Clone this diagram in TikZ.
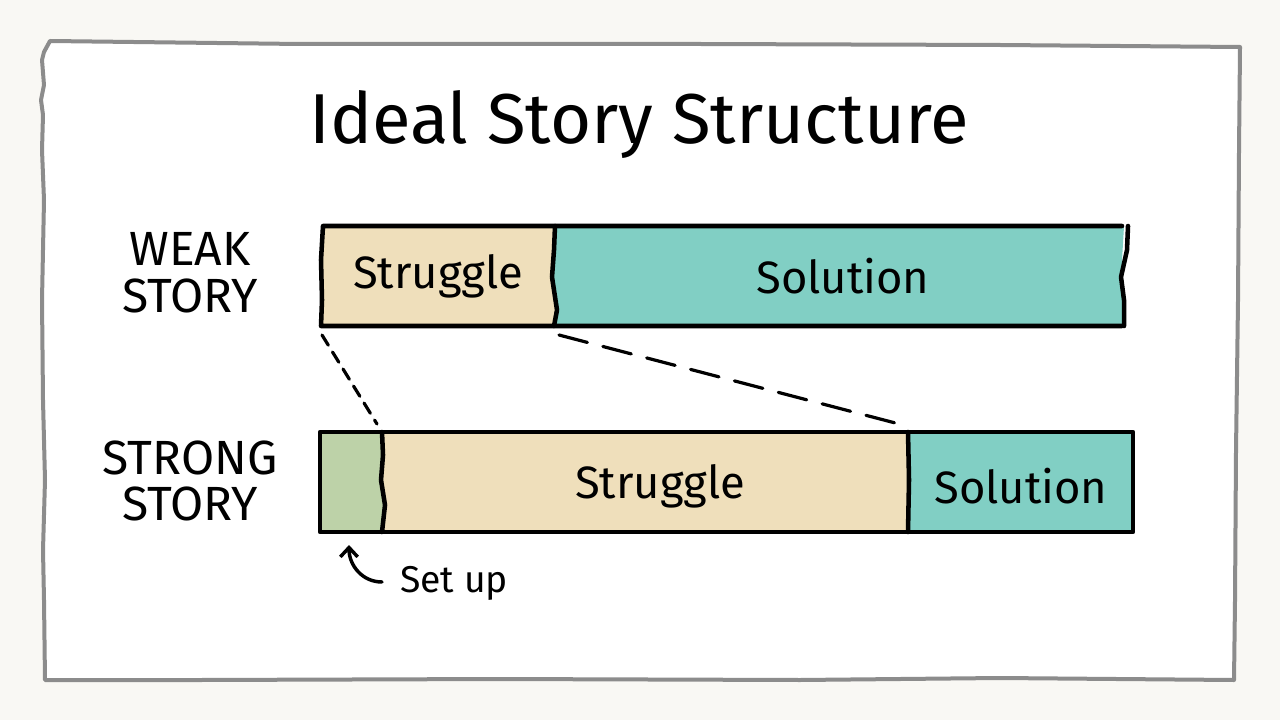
\documentclass[tikz,border=0pt]{standalone}
\usepackage{fontspec}
\setmainfont{Fira Sans}
\usetikzlibrary{arrows.meta}
\definecolor{bgc}{HTML}{F9F8F4}
\definecolor{framec}{HTML}{8C8C8C}
\definecolor{strugglec}{HTML}{EFDFBB}
\definecolor{solutionc}{HTML}{81CFC4}
\definecolor{setupc}{HTML}{BDD2A8}
\tikzset{
  outline/.style={draw=black, line width=3.4pt, line join=round, line cap=round},
  label/.style={font=\fontsize{36}{35}\selectfont, align=center, inner sep=0pt},
  bartext/.style={font=\fontsize{34}{36}\selectfont, inner sep=0pt},
  dashline/.style={draw=black, line width=2.4pt, line cap=round},
}
\begin{document}
\begin{tikzpicture}[x=0.75pt,y=-0.75pt]
\useasboundingbox (0,0) rectangle (1280,720);
\fill[bgc] (0,0) rectangle (1280,720);
% frame
\draw[framec, fill=white, line width=3pt, line join=round]
  (50,41) -- (300,44) -- (700,44) -- (1000,45) -- (1240,47)
  -- (1239,150) -- (1238,300) -- (1236,450) -- (1235,600) -- (1234,680)
  -- (1000,678) -- (800,680) -- (500,679) -- (200,680) -- (45,680)
  -- (44,600) -- (43,550) -- (45,480) -- (43,400) -- (42,300) -- (44,200)
  -- (42,150) -- (43,115) -- (41,100) -- (44,85) -- (42,60) -- (44,52) -- cycle;
% title
\node[font=\fontsize{53}{56}\selectfont, inner sep=0pt] (title) at (639,125) {Ideal Story Structure};
% side labels
\node[label] (weak) at (190,273) {WEAK\\STORY};
\node[label] (strong) at (190,481) {STRONG\\STORY};
% weak bar
\fill[strugglec] (321,226) -- (555,226) -- (552,277) -- (557,310) -- (554,326) -- (321,326) -- cycle;
\fill[solutionc] (555,226) -- (1124,226) -- (1121,277) -- (1124,326) -- (554,326) -- (557,310) -- (552,277) -- cycle;
\draw[outline] (1122,226) -- (323,226) -- (321,260) -- (322,300) -- (321,326) -- (1122,326);
\draw[outline] (555,226) -- (554,250) -- (552,277) -- (557,310) -- (554,326);
\draw[outline] (1128,226) -- (1127,250) -- (1121,277) -- (1124,300) -- (1124,326);
% strong bar
\fill[setupc] (320,432) -- (382,432) -- (381,480) -- (385,505) -- (382,532) -- (320,532) -- cycle;
\fill[strugglec] (382,432) -- (908,432) -- (908,532) -- (382,532) -- (385,505) -- (381,480) -- cycle;
\fill[solutionc] (908,432) -- (1133,432) -- (1133,532) -- (908,532) -- cycle;
\draw[outline] (320,432) -- (1133,432) -- (1133,532) -- (320,532) -- cycle;
\draw[outline] (382,432) -- (383,455) -- (381,480) -- (385,505) -- (382,532);
\draw[outline] (908,432) -- (909,480) -- (908,532);
% bar texts
\node[bartext] (wstr) at (438,276) {Struggle};
\node[bartext] (wsol) at (843,276) {Solution};
\node[bartext] (sstr) at (660,486) {Struggle};
\node[bartext] (ssol) at (1021,486) {Solution};
% dashed connectors
\coordinate (wA) at (322,335);
\coordinate (sA) at (377,424);
\coordinate (wB) at (559,335);
\coordinate (sB) at (903,425);
\draw[dashline, dash pattern=on 9pt off 6pt] (wA) -- (sA);
\draw[dashline, dash pattern=on 22pt off 12pt] (wB) -- (sB);
% set up
\node[bartext, font=\fontsize{28}{30}\selectfont] (setup) at (454,583) {Set up};
\coordinate (tip) at (349,545);
\coordinate (tail) at (382,582);
\draw[line width=2.6pt, line cap=round, -{Straight Barb[length=7pt,width=13pt]}]
  (tail) .. controls (362,582) and (349,565) .. (tip);
\end{tikzpicture}
\end{document}
